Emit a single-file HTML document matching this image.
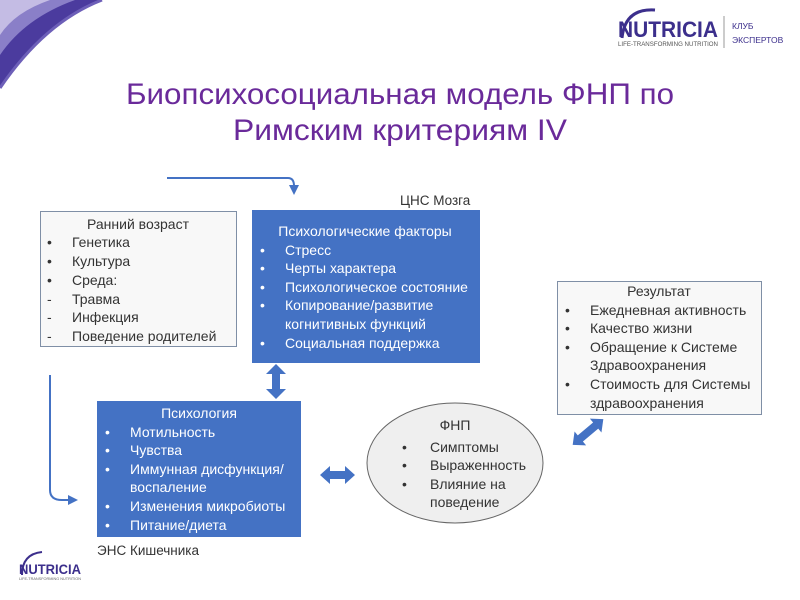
<!DOCTYPE html>
<html><head><meta charset="utf-8"><style>
html,body{margin:0;padding:0;background:#fff;width:800px;height:600px;overflow:hidden}
svg{display:block}
text{font-family:"Liberation Sans","DejaVu Sans",sans-serif}
</style></head><body>
<svg width="800" height="600" viewBox="0 0 800 600" xmlns="http://www.w3.org/2000/svg">
<defs>
<marker id="ah" markerWidth="10" markerHeight="10" refX="5" refY="5" orient="auto" markerUnits="userSpaceOnUse"><path d="M0,0 L10,5 L0,10 Z" fill="#4472c4"/></marker>
</defs>
<path d="M0,0 L102,0 Q45,22 0,88 Z" fill="#4b3b9e"/>
<path d="M0,0 L75,0 Q25,18 0,55 Z" fill="#8a7fc8"/>
<path d="M0,0 L50,0 Q15,12 0,35 Z" fill="#c4bce4"/>
<path d="M102,0 Q45,22 0,88" fill="none" stroke="#6d5fb8" stroke-width="3"/>
<path d="M622,38 Q625,8 655,10" fill="none" stroke="#3c2f8c" stroke-width="3"/>
<text x="618" y="37" font-size="22" font-weight="bold" fill="#3c2f8c" textLength="100" lengthAdjust="spacingAndGlyphs">NUTRICIA</text>
<text x="618" y="46" font-size="6" fill="#555" textLength="100" lengthAdjust="spacingAndGlyphs">LIFE-TRANSFORMING NUTRITION</text>
<line x1="724" y1="16" x2="724" y2="48" stroke="#999" stroke-width="1"/>
<text x="732" y="29" font-size="8.5" fill="#3c2f8c">КЛУБ</text>
<text x="732" y="43" font-size="8.5" fill="#3c2f8c">ЭКСПЕРТОВ</text>
<text x="400" y="104" font-size="30" fill="#6a2a9a" text-anchor="middle" textLength="548" lengthAdjust="spacingAndGlyphs">Биопсихосоциальная модель ФНП по</text>
<text x="400" y="140" font-size="30" fill="#6a2a9a" text-anchor="middle" textLength="334" lengthAdjust="spacingAndGlyphs">Римским критериям IV</text>
<path d="M167,178 L288,178 Q294,178 294,186 L294,190" fill="none" stroke="#4472c4" stroke-width="2" marker-end="url(#ah)"/>
<path d="M50,375 L50,490 Q50,500 62,500 L73,500" fill="none" stroke="#4472c4" stroke-width="2" marker-end="url(#ah)"/>
<path d="M276,364 L286,374 L280,374 L280,389 L286,389 L276,399 L266,389 L272,389 L272,374 L266,374 Z" fill="#4472c4"/>
<path d="M320,475 L330,466 L330,471 L345,471 L345,466 L355,475 L345,484 L345,479 L330,479 L330,484 Z" fill="#4472c4"/>
<g transform="translate(588,432) rotate(-40)"><path d="M-20,0 L-10,-9 L-10,-4 L10,-4 L10,-9 L20,0 L10,9 L10,4 L-10,4 L-10,9 Z" fill="#4472c4"/></g>
<rect x="40.5" y="211.5" width="196" height="135" fill="#f8f8f8" stroke="#7f8fa6" stroke-width="1"/>
<rect x="252" y="210" width="228" height="153" fill="#4472c4"/>
<rect x="557.5" y="281.5" width="204" height="133" fill="#f8f8f8" stroke="#7f8fa6" stroke-width="1"/>
<rect x="97" y="401" width="204" height="136" fill="#4472c4"/>
<ellipse cx="455" cy="463" rx="88" ry="60" fill="#efefef" stroke="#666" stroke-width="1"/>
<text x="400" y="205" font-size="13.5" fill="#333">ЦНС Мозга</text>
<text x="97" y="555" font-size="13.5" fill="#333">ЭНС Кишечника</text>
<g font-size="14" fill="#333">
<text x="138" y="229" text-anchor="middle">Ранний возраст</text>
<text x="47" y="247">•</text><text x="72" y="247">Генетика</text>
<text x="47" y="266">•</text><text x="72" y="266">Культура</text>
<text x="47" y="285">•</text><text x="72" y="285">Среда:</text>
<text x="47" y="304">-</text><text x="72" y="304">Травма</text>
<text x="47" y="322">-</text><text x="72" y="322">Инфекция</text>
<text x="47" y="341">-</text><text x="72" y="341">Поведение родителей</text>
</g>
<g font-size="14" fill="#fff">
<text x="365" y="236" text-anchor="middle">Психологические факторы</text>
<text x="260" y="255">•</text><text x="285" y="255">Стресс</text>
<text x="260" y="273">•</text><text x="285" y="273">Черты характера</text>
<text x="260" y="292">•</text><text x="285" y="292">Психологическое состояние</text>
<text x="260" y="310">•</text><text x="285" y="310">Копирование/развитие</text>
<text x="285" y="329">когнитивных функций</text>
<text x="260" y="348">•</text><text x="285" y="348">Социальная поддержка</text>
</g>
<g font-size="14" fill="#333">
<text x="659" y="296" text-anchor="middle">Результат</text>
<text x="565" y="315">•</text><text x="590" y="315">Ежедневная активность</text>
<text x="565" y="333">•</text><text x="590" y="333">Качество жизни</text>
<text x="565" y="352">•</text><text x="590" y="352">Обращение к Системе</text>
<text x="590" y="370">Здравоохранения</text>
<text x="565" y="389">•</text><text x="590" y="389">Стоимость для Системы</text>
<text x="590" y="408">здравоохранения</text>
</g>
<g font-size="14" fill="#fff">
<text x="199" y="418" text-anchor="middle">Психология</text>
<text x="105" y="437">•</text><text x="130" y="437">Мотильность</text>
<text x="105" y="455">•</text><text x="130" y="455">Чувства</text>
<text x="105" y="474">•</text><text x="130" y="474">Иммунная дисфункция/</text>
<text x="130" y="492">воспаление</text>
<text x="105" y="511">•</text><text x="130" y="511">Изменения микробиоты</text>
<text x="105" y="530">•</text><text x="130" y="530">Питание/диета</text>
</g>
<g font-size="14" fill="#333">
<text x="455" y="430" text-anchor="middle">ФНП</text>
<text x="402" y="452">•</text><text x="430" y="452">Симптомы</text>
<text x="402" y="470">•</text><text x="430" y="470">Выраженность</text>
<text x="402" y="489">•</text><text x="430" y="489">Влияние на</text>
<text x="430" y="507">поведение</text>
</g>
<path d="M22,575 Q22,554 42,552" fill="none" stroke="#3c2f8c" stroke-width="2"/>
<text x="19" y="574" font-size="14" font-weight="bold" fill="#3c2f8c" textLength="62" lengthAdjust="spacingAndGlyphs">NUTRICIA</text>
<text x="19" y="580" font-size="4" fill="#666" textLength="62" lengthAdjust="spacingAndGlyphs">LIFE-TRANSFORMING NUTRITION</text>
</svg>
</body></html>
